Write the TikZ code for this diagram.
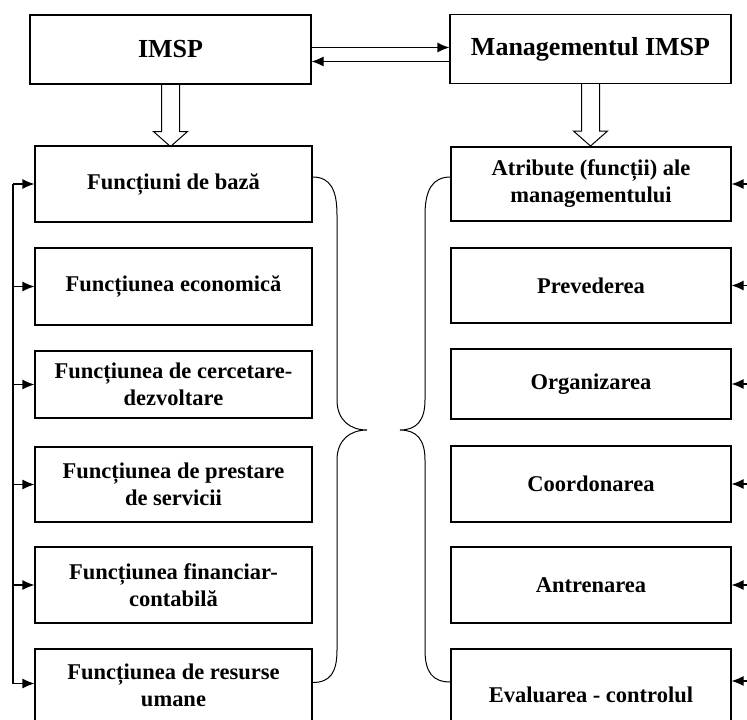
\documentclass[tikz,border=0pt]{standalone}
\usepackage{fontspec}
\setmainfont{Liberation Serif}
\usetikzlibrary{arrows.meta,calc}

\begin{document}
\begin{tikzpicture}[x=1pt, y=-1pt, line width=1.1pt,
    topbox/.style={draw, minimum width=281pt, minimum height=69pt,
        font=\fontsize{26}{31}\selectfont\bfseries},
    box/.style={draw, align=center, minimum height=76pt,
        font=\fontsize{22.5}{27}\selectfont\bfseries},
    lbox/.style={box, minimum width=277pt},
    rbox/.style={box, minimum width=280pt},
    arr/.style={-{Latex[length=12pt,width=10pt]}}]
    \useasboundingbox (0,0) rectangle (747,720);
    \node[topbox] (imsp) at (170.5,49.5) {IMSP};
    \node[topbox] (mgmt) at (590.5,49) {Managementul IMSP};
    \node[lbox] (f1) at (173.5,184) {Funcțiuni de bază};
    \node[lbox, minimum height=77pt] (f2) at (173.5,286.5) {Funcțiunea economică};
    \node[lbox, minimum height=67pt] (f3) at (173.5,384.5) {Funcțiunea de cercetare-\\dezvoltare};
    \node[lbox, minimum height=75pt] (f4) at (173.5,484.5) {Funcțiunea de prestare\\de servicii};
    \node[lbox] (f5) at (173.5,585) {Funcțiunea financiar-\\contabilă};
    \node[lbox, minimum height=73pt] (f6) at (173.5,685.5) {Funcțiunea de resurse\\umane};
    \node[rbox, minimum height=74pt] (a1) at (591,184) {Atribute (funcții) ale\\managementului};
    \node[rbox, minimum height=75pt] (a2) at (591,285.5) {Prevederea};
    \node[rbox, minimum height=70pt] (a3) at (591,384) {Organizarea};
    \node[rbox] (a4) at (591,484) {Coordonarea};
    \node[rbox] (a5) at (591,585) {Antrenarea};
    \node[rbox, minimum height=92pt] (a6) at (591,695) {Evaluarea - controlul};
    \draw[arr] ([yshift=2pt]imsp.east) -- ([yshift=2pt]imsp.east -| mgmt.west);
    \draw[arr] ([yshift=-12pt]imsp.east -| mgmt.west) -- ([yshift=-12pt]imsp.east);
    \foreach \a in {imsp,mgmt}
        \draw[line width=1pt] (\a.south) ++(-9,0) -- ++(0,47) -- ++(-8,0) -- ++(17,15)
            -- ++(17,-15) -- ++(-8,0) -- ++(0,-47);
    \coordinate (fb) at (13,0);
    \coordinate (rb) at (747,0);
    \draw (f1.west -| fb) -- ([yshift=2pt]f6.west -| fb);
    \foreach \i in {1,...,5}
        \draw[arr] (f\i.west -| fb) -- (f\i.west);
    \draw[arr] ([yshift=2pt]f6.west -| fb) -- ([yshift=2pt]f6.west);
    \foreach \i in {1,...,5}
        \draw[arr] (a\i.east -| rb) -- (a\i.east);
    \draw[arr] ([yshift=14pt]a6.east -| rb) -- ([yshift=14pt]a6.east);
    \coordinate (bl) at (367,430);
    \coordinate (br) at (400,430);
    \draw[line width=1pt] ([yshift=7pt]f1.east) .. controls +(18,0) and +(0,-25) .. (337,215)
        -- (337,400) .. controls +(0,20) and +(-17,0) .. (bl)
        .. controls +(-17,0) and +(0,-20) .. (337,460)
        -- (337,650) .. controls +(0,22) and +(18,0) .. ([yshift=3pt]f6.east);
    \draw[line width=1pt] ([yshift=7pt]a1.west) .. controls +(-18,0) and +(0,-25) .. (425,215)
        -- (425,400) .. controls +(0,20) and +(17,0) .. (br)
        .. controls +(17,0) and +(0,-20) .. (425,460)
        -- (425,650) .. controls +(0,22) and +(-18,0) .. ([yshift=13pt]a6.west);
\end{tikzpicture}
\end{document}
